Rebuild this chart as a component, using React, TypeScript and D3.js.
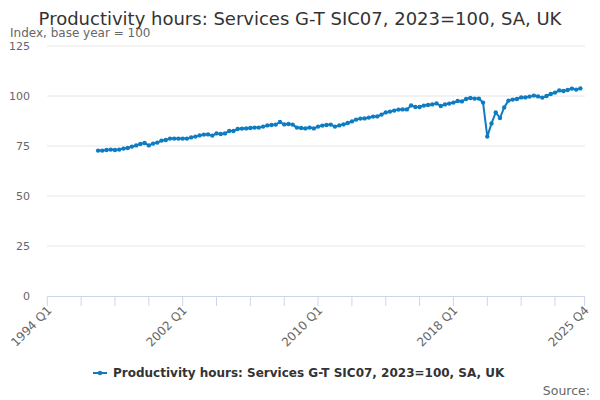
import React from "react";
import * as d3 from "d3";

const title = "Productivity hours: Services G-T SIC07, 2023=100, SA, UK";
const yAxisTitle = "Index, base year = 100";
const seriesName = "Productivity hours: Services G-T SIC07, 2023=100, SA, UK";
const sourceText = "Source:";

const years = d3.range(1994, 2026);
const quarters = ["Q1", "Q2", "Q3", "Q4"];
const categories: string[] = years.flatMap((y) => quarters.map((q) => `${y} ${q}`));

const dataStart = "1997 Q1";
const values: number[] = [
  72.7, 72.7, 73.0, 73.2,
  73.0, 73.2, 73.7, 74.0,
  74.7, 75.3, 76.0, 76.5,
  75.3, 76.2, 76.7, 77.7,
  78.0, 78.7, 78.7, 78.7,
  78.7, 78.7, 79.3, 79.7,
  80.3, 80.7, 80.8, 80.2,
  81.3, 81.0, 81.3, 82.5,
  82.5, 83.5, 83.7, 83.8,
  84.0, 84.2, 84.2, 84.7,
  85.3, 85.5, 85.7, 87.0,
  85.8, 86.0, 85.7, 84.2,
  84.0, 83.8, 84.2, 83.8,
  84.7, 85.2, 85.5, 85.7,
  84.7, 85.3, 85.8, 86.5,
  87.3, 88.2, 88.7, 88.8,
  89.2, 89.7, 89.8, 90.7,
  91.8, 92.2, 92.7, 93.2,
  93.3, 93.3, 95.3, 94.5,
  94.5, 95.2, 95.5, 95.8,
  96.3, 95.0, 95.8, 96.2,
  96.7, 97.5, 97.3, 98.5,
  99.0, 98.7, 98.7, 96.7,
  79.7, 86.3, 91.8, 89.0,
  94.3, 97.7, 98.2, 98.5,
  99.3, 99.3, 99.7, 100.2,
  99.8, 99.2, 100.0, 101.0,
  101.7, 102.8, 102.5, 103.0,
  103.7, 103.2, 103.8,
];

const yTicks = [0, 25, 50, 75, 100, 125];
const xTickLabels = ["1994 Q1", "2002 Q1", "2010 Q1", "2018 Q1", "2025 Q4"];
const xTickMarks = categories.filter((_, i) => i % 8 === 0).concat([categories[categories.length - 1]]);

const FONT = "'DejaVu Sans', sans-serif";
const COLOR = "#0f7cc1";

export default function App() {
  const x = d3.scalePoint<string>().domain(categories).range([47.3, 584.6]);
  const y = d3.scaleLinear().domain([0, 125]).range([296, 46]);
  const startIdx = categories.indexOf(dataStart);
  const data = values.map((v, i) => ({ c: categories[startIdx + i], v }));
  const line = d3
    .line<{ c: string; v: number }>()
    .x((d) => x(d.c)!)
    .y((d) => y(d.v));

  return (
    <svg
      width={600}
      height={400}
      style={{ position: "absolute", left: 0, top: 0, fontFamily: FONT }}
    >
      <rect width={600} height={400} fill="#fff" />
      <text x={300} y={25} textAnchor="middle" fontSize={18} fill="#333">
        {title}
      </text>
      <text x={10} y={37} fontSize={12} fill="#666">
        {yAxisTitle}
      </text>
      {yTicks.map((t) => (
        <g key={t}>
          {t > 0 && (
            <line x1={47} x2={585} y1={y(t)} y2={y(t)} stroke="#e6e6e6" strokeWidth={1} />
          )}
          <text x={30} y={y(t) + 4} textAnchor="end" fontSize={11} fill="#666">
            {t}
          </text>
        </g>
      ))}
      <line x1={47} x2={585} y1={y(0) + 0.5} y2={y(0) + 0.5} stroke="#ccd6eb" strokeWidth={1} />
      {xTickMarks.map((c) => (
        <line
          key={c}
          x1={x(c)!}
          x2={x(c)!}
          y1={y(0)}
          y2={y(0) + 10}
          stroke="#ccd6eb"
          strokeWidth={1}
        />
      ))}
      {xTickLabels.map((c) => (
        <text
          key={c}
          transform={`translate(${x(c)! + 5},${y(0) + 15}) rotate(-45)`}
          textAnchor="end"
          fontSize={12}
          fill="#666"
        >
          {c}
        </text>
      ))}
      <path d={line(data) ?? ""} fill="none" stroke={COLOR} strokeWidth={2} strokeLinejoin="round" />
      {data.map((d) => (
        <circle key={d.c} cx={x(d.c)} cy={y(d.v)} r={2.2} fill={COLOR} />
      ))}
      <g>
        <line x1={93} x2={107} y1={373} y2={373} stroke={COLOR} strokeWidth={2} />
        <circle cx={100} cy={373} r={2.2} fill={COLOR} />
        <text x={113} y={377} fontSize={12} fontWeight="bold" fill="#333">
          {seriesName}
        </text>
      </g>
      <text x={590} y={395} textAnchor="end" fontSize={12.5} fill="#666">
        {sourceText}
      </text>
    </svg>
  );
}
